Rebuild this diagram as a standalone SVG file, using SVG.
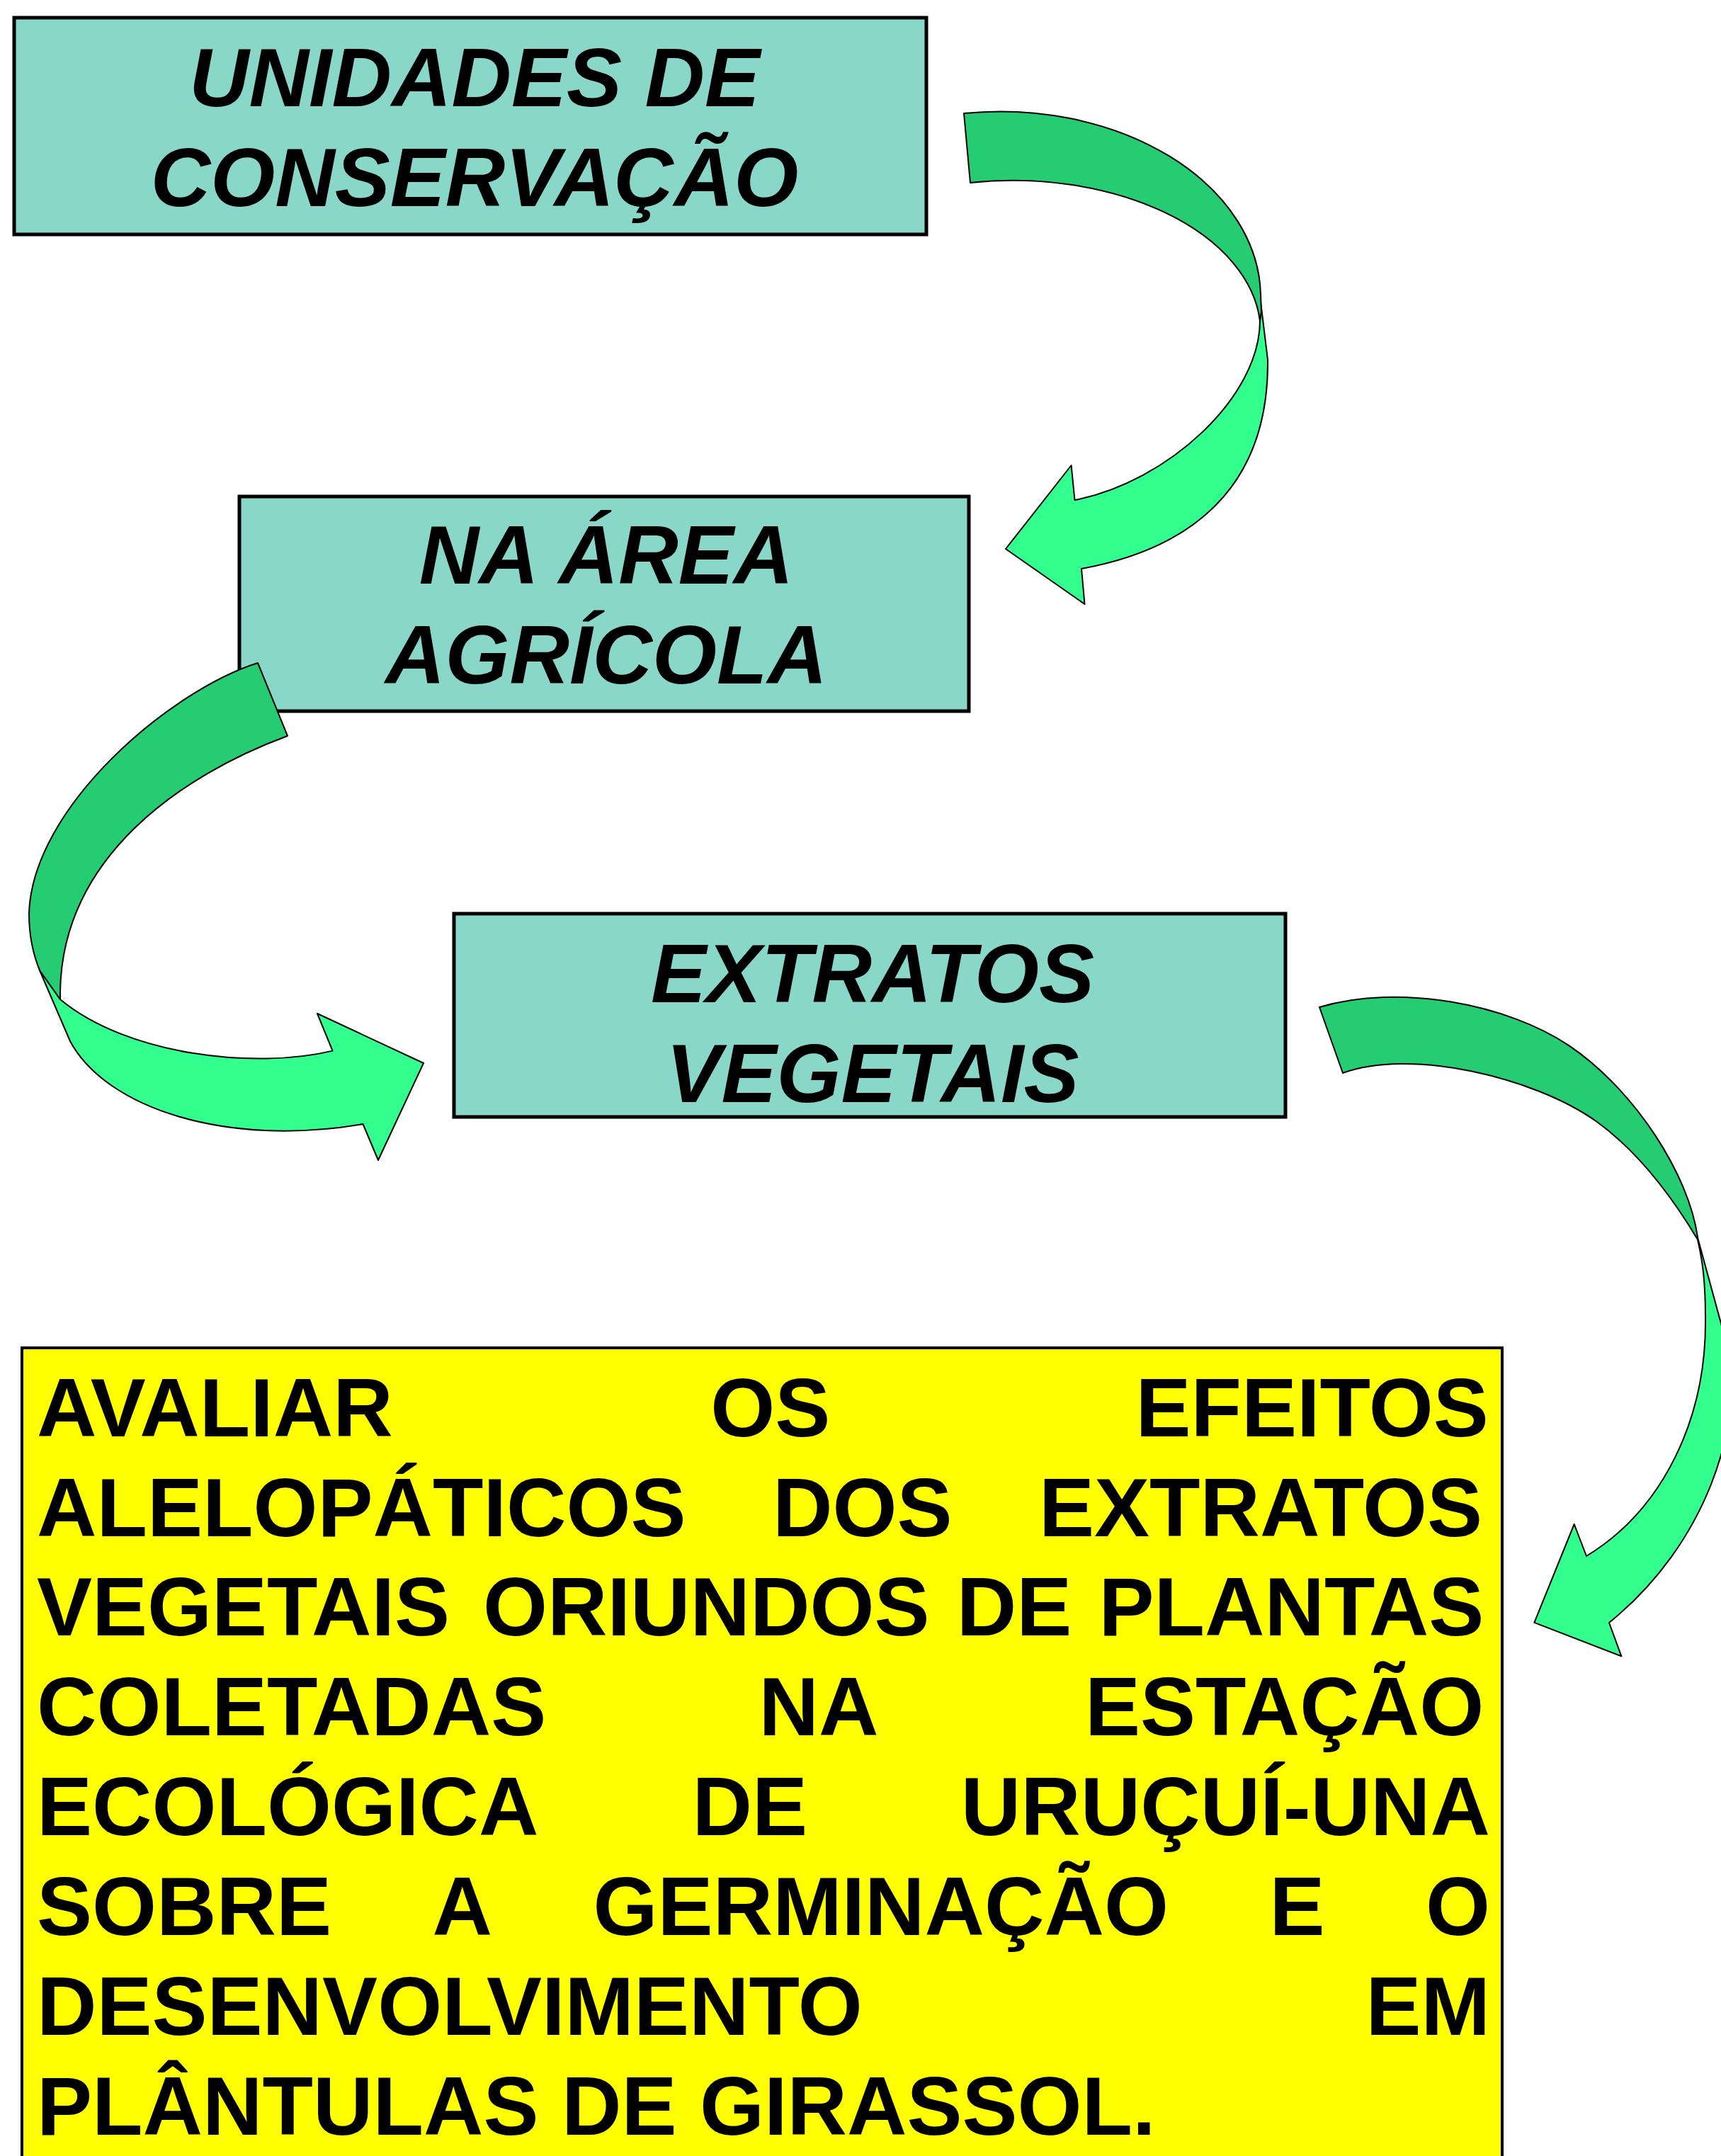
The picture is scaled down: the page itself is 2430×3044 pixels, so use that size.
<svg xmlns="http://www.w3.org/2000/svg" width="2430" height="3044" viewBox="0 0 2430 3044">
<style>
.box{fill:#88D7C9;stroke:#000;stroke-width:5}
.ybox{fill:#FFFF00;stroke:#000;stroke-width:4}
.t{font-family:"Liberation Sans",Arial,sans-serif;font-weight:bold;font-style:italic;font-size:117px;fill:#000;text-anchor:middle}
.b{font-family:"Liberation Sans",Arial,sans-serif;font-weight:bold;font-size:117px;fill:#000}
.dk{fill:#26CC72;stroke:#000;stroke-width:2;stroke-linejoin:round}
.lt{fill:#33FF8F;stroke:#000;stroke-width:2;stroke-linejoin:round}
</style>
<rect width="2430" height="3044" fill="#fff"/>
<g id="node-unidades">
<rect class="box" x="20" y="25" width="1288" height="306"/>
<text class="t" x="670" y="150">UNIDADES DE</text>
<text class="t" x="670" y="291">CONSERVAÇÃO</text>
</g>
<g id="node-area">
<rect class="box" x="338" y="701" width="1030" height="303"/>
<text class="t" x="856" y="824">NA ÁREA</text>
<text class="t" x="856" y="965">AGRÍCOLA</text>
</g>
<g id="node-extratos">
<rect class="box" x="641" y="1290" width="1174" height="287"/>
<text class="t" x="1232" y="1415">EXTRATOS</text>
<text class="t" x="1232" y="1556">VEGETAIS</text>
</g>
<g id="node-objetivo">
<rect class="ybox" x="31" y="1903" width="2090" height="1200"/>
<text class="b" y="2028"><tspan x="52">AVALIAR</tspan><tspan x="1003.2">OS</tspan><tspan x="1603.4">EFEITOS</tspan></text>
<text class="b" y="2169"><tspan x="52">ALELOPÁTICOS</tspan><tspan x="1091">DOS</tspan><tspan x="1466.9">EXTRATOS</tspan></text>
<text class="b" y="2309"><tspan x="52">VEGETAIS</tspan><tspan x="682">ORIUNDOS</tspan><tspan x="1350.7">DE</tspan><tspan x="1551.5">PLANTAS</tspan></text>
<text class="b" y="2450"><tspan x="52">COLETADAS</tspan><tspan x="1071.5">NA</tspan><tspan x="1532">ESTAÇÃO</tspan></text>
<text class="b" y="2591"><tspan x="52">ECOLÓGICA</tspan><tspan x="977.4">DE</tspan><tspan x="1356.7">URUÇUÍ-UNA</tspan></text>
<text class="b" y="2732"><tspan x="52">SOBRE</tspan><tspan x="610.6">A</tspan><tspan x="837.6">GERMINAÇÃO</tspan><tspan x="1792.5">E</tspan><tspan x="2013">O</tspan></text>
<text class="b" y="2873"><tspan x="52">DESENVOLVIMENTO</tspan><tspan x="1928.5">EM</tspan></text>
<text class="b" y="3014"><tspan x="52">PLÂNTULAS DE GIRASSOL.</tspan></text>
</g>
<g id="connectors">
<g id="arrow-1">
<path class="lt" d="M1780.5,430 L1790,508 C1792,690 1680,775 1527,803 L1531.5,853 L1420,775 L1512.6,657 L1517.5,706 C1650,680 1779,560 1779,453 Z"/>
<path class="dk" d="M1361,160 A368,263 0 0 1 1780,415 L1781,440 L1779,453 A350,215 0 0 0 1370,258 Z"/>
</g>
<g id="arrow-2">
<path class="lt" d="M56,1370 L99,1470 C150,1565 320,1620 512.5,1587 L534,1638 L598,1501 L448,1431 L469.6,1483.6 C360,1510 180,1490 85,1411 Z"/>
<path class="dk" d="M364,936 C240,975 45,1140 41,1290 C41,1322 47,1348 56,1370 L85,1411 L85,1400 C88,1210 255,1095 406,1039 Z"/>
</g>
<g id="arrow-3">
<path class="lt" d="M2395,1740 L2440,1905 C2462,2010 2410,2180 2272,2291 L2289.4,2338.4 L2166.4,2290.9 L2222.7,2152 L2240,2197 C2350,2130 2410,2000 2408,1860 C2408,1810 2404,1780 2397,1750 Z"/>
<path class="dk" d="M1863,1422 C1975,1388 2130,1418 2216,1476.7 C2310,1540.6 2385,1660 2397,1746.7 L2397,1750 C2367,1700 2319,1630 2254,1583.3 C2165,1520 1990,1480 1896,1515 Z"/>
</g>
</g>
</svg>
